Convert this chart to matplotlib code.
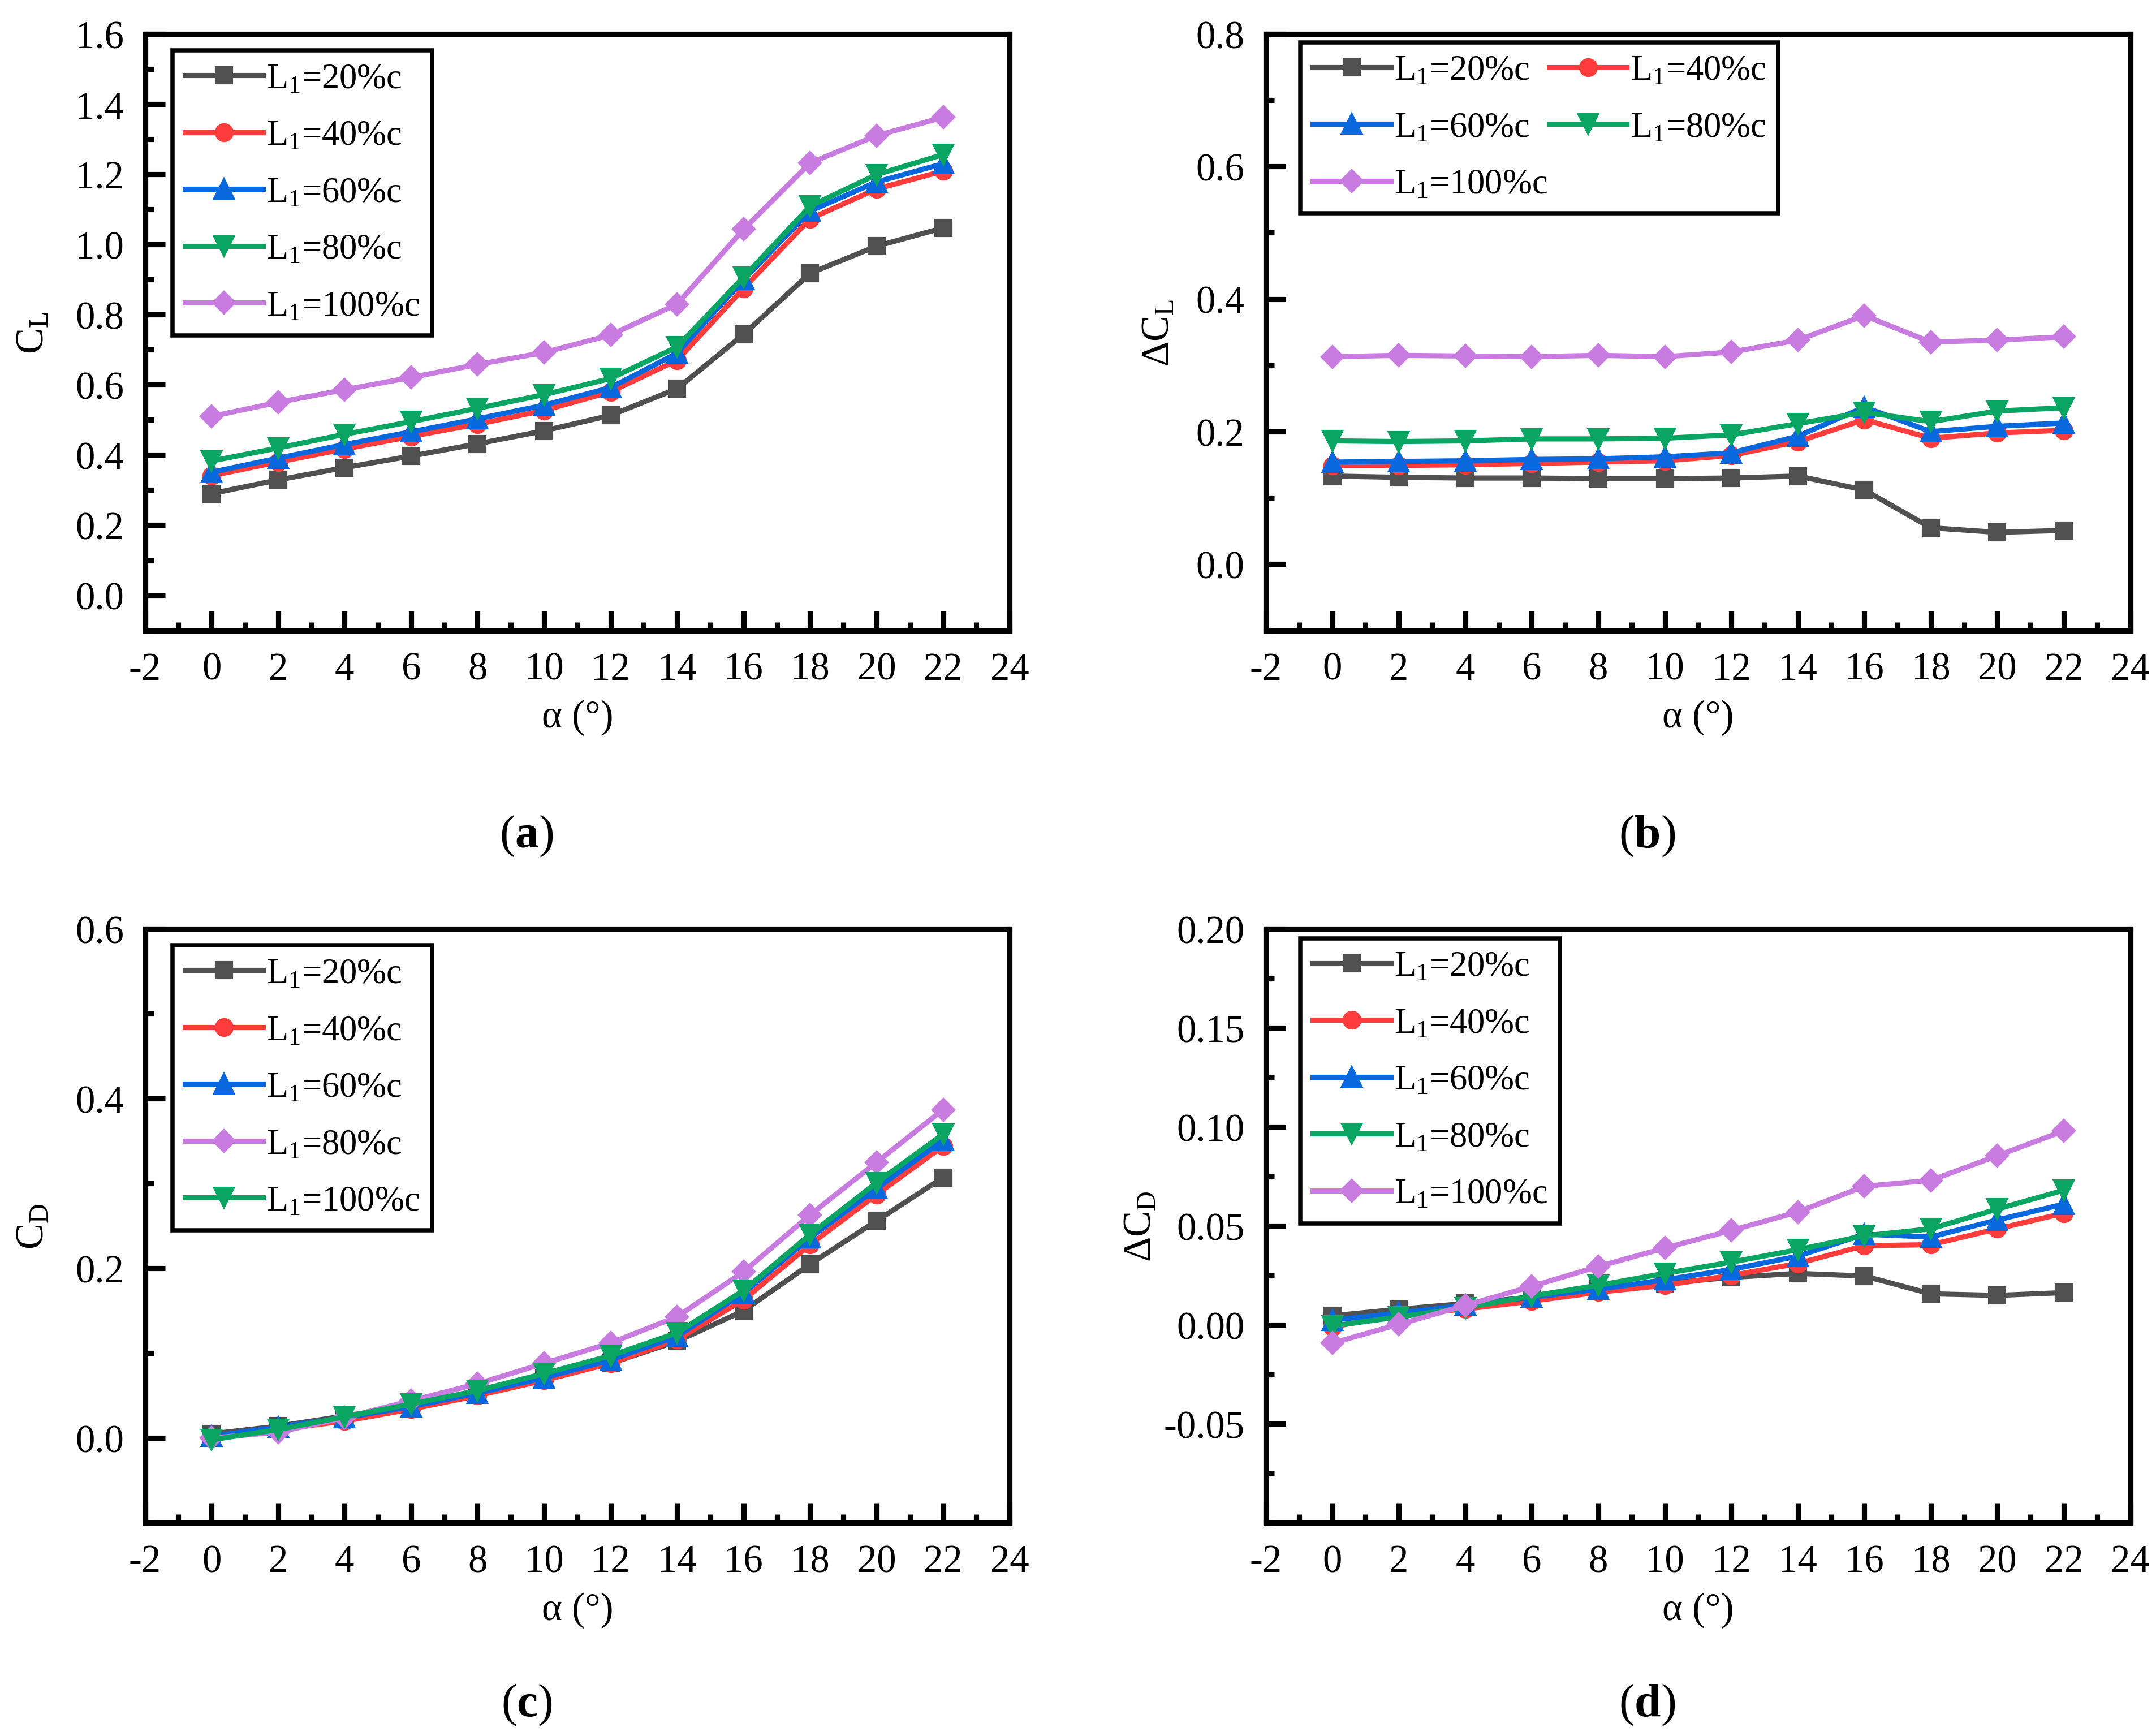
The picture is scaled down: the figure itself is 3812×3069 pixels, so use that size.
import numpy as np
import matplotlib
matplotlib.use("Agg")
import matplotlib.pyplot as plt
from matplotlib.ticker import MultipleLocator, FormatStrFormatter

plt.rcParams['font.family'] = ['Liberation Serif', 'DejaVu Serif']
plt.rcParams['mathtext.fontset'] = 'custom'
plt.rcParams['mathtext.rm'] = 'Liberation Serif'
plt.rcParams['mathtext.it'] = 'Liberation Serif:italic'
plt.rcParams['mathtext.bf'] = 'Liberation Serif:bold'
plt.rcParams['axes.unicode_minus'] = False

# angle of attack
alpha = [0, 2, 4, 6, 8, 10, 12, 14, 16, 18, 20, 22]

# (a) lift coefficient
cl_20 = [0.290, 0.329, 0.364, 0.397, 0.432, 0.469, 0.513, 0.589, 0.744, 0.918, 0.995, 1.047]
cl_40 = [0.341, 0.380, 0.417, 0.453, 0.488, 0.527, 0.580, 0.670, 0.875, 1.073, 1.158, 1.209]
cl_60 = [0.351, 0.391, 0.430, 0.466, 0.503, 0.542, 0.592, 0.690, 0.900, 1.095, 1.178, 1.230]
cl_80 = [0.383, 0.420, 0.459, 0.495, 0.533, 0.572, 0.618, 0.708, 0.907, 1.109, 1.199, 1.256]
cl_100 = [0.510, 0.550, 0.586, 0.621, 0.658, 0.692, 0.742, 0.830, 1.043, 1.232, 1.310, 1.362]

# (b) lift increment
dcl_20 = [0.133, 0.131, 0.130, 0.130, 0.129, 0.129, 0.130, 0.133, 0.112, 0.055, 0.048, 0.051]
dcl_40 = [0.149, 0.149, 0.150, 0.152, 0.154, 0.156, 0.164, 0.185, 0.218, 0.190, 0.198, 0.202]
dcl_60 = [0.154, 0.155, 0.156, 0.158, 0.159, 0.162, 0.168, 0.193, 0.237, 0.200, 0.208, 0.213]
dcl_80 = [0.186, 0.185, 0.186, 0.189, 0.189, 0.190, 0.195, 0.212, 0.229, 0.215, 0.231, 0.236]
dcl_100 = [0.313, 0.315, 0.314, 0.313, 0.315, 0.313, 0.320, 0.338, 0.375, 0.335, 0.338, 0.343]

# (c) drag coefficient
cd_20 = [0.005, 0.014, 0.026, 0.038, 0.053, 0.071, 0.088, 0.114, 0.150, 0.205, 0.256, 0.307]
cd_40 = [0.000, 0.010, 0.020, 0.034, 0.050, 0.068, 0.088, 0.116, 0.163, 0.228, 0.287, 0.344]
cd_60 = [0.002, 0.013, 0.024, 0.037, 0.053, 0.071, 0.092, 0.120, 0.171, 0.236, 0.294, 0.351]
cd_80 = [0.000, 0.007, 0.024, 0.044, 0.064, 0.088, 0.112, 0.143, 0.196, 0.263, 0.325, 0.387]
cd_100 = [-0.002, 0.010, 0.025, 0.040, 0.056, 0.076, 0.097, 0.124, 0.174, 0.240, 0.301, 0.358]

# (d) drag increment
dcd_20 = [0.0046, 0.0079, 0.0108, 0.0140, 0.0180, 0.0210, 0.0240, 0.0260, 0.0247, 0.0157, 0.0149, 0.0163]
dcd_40 = [-0.0010, 0.0050, 0.0080, 0.0120, 0.0165, 0.0200, 0.0250, 0.0310, 0.0400, 0.0405, 0.0485, 0.0564]
dcd_60 = [0.0024, 0.0060, 0.0100, 0.0140, 0.0180, 0.0228, 0.0280, 0.0347, 0.0458, 0.0444, 0.0530, 0.0610]
dcd_80 = [-0.0005, 0.0040, 0.0087, 0.0146, 0.0200, 0.0260, 0.0317, 0.0380, 0.0450, 0.0485, 0.0585, 0.0680]
dcd_100 = [-0.0092, 0.0003, 0.0098, 0.0195, 0.0295, 0.0388, 0.0477, 0.0570, 0.0700, 0.0730, 0.0854, 0.0980]

labels = ['20', '40', '60', '80', '100']
c_gray = '#505050'
c_red = '#FF3C3C'
c_blue = '#0A68DE'
c_green = '#0AA563'
c_purple = '#C87CE0'

styles = [(c_gray, 's', 6.5), (c_red, 'o', 7.0), (c_blue, '^', 8.0),
          (c_green, 'v', 8.0), (c_purple, 'D', 6.5)]
# panel (c) swaps the last two legend entries
styles_c = [(c_gray, 's', 6.5), (c_red, 'o', 7.0), (c_blue, '^', 8.0),
            (c_purple, 'D', 6.5), (c_green, 'v', 8.0)]

FS = 16.5
LFS = 15


def lab(p):
    return r'$\mathregular{L_1}$=' + p + '%c'


def style_axes(ax, ylim, ymajor, fmt):
    ax.set_xlim(-2, 24)
    ax.set_ylim(*ylim)
    ax.xaxis.set_major_locator(MultipleLocator(2))
    ax.xaxis.set_minor_locator(MultipleLocator(1))
    ax.yaxis.set_major_locator(MultipleLocator(ymajor))
    ax.yaxis.set_minor_locator(MultipleLocator(ymajor / 2))
    ax.yaxis.set_major_formatter(FormatStrFormatter(fmt))
    ax.tick_params(which='both', direction='in', top=False, right=False,
                   labelsize=FS, width=2.2)
    ax.tick_params(which='major', length=8.5, pad=9)
    ax.tick_params(which='minor', length=3.5)
    for s in ax.spines.values():
        s.set_linewidth(2.2)
    ax.set_xlabel('α (°)', fontsize=FS, labelpad=5)
    # keep only the tick labels inside the data range on y
    yt = [t for t in ax.get_yticks() if t >= ylim[0] + 1e-9 and t <= ylim[1] + 1e-9]
    ax.set_yticks(yt)


def draw(ax, series, sty):
    lines = []
    for (vals, p), (col, mk, ms) in zip(series, sty):
        ln, = ax.plot(alpha, vals, color=col, marker=mk, markersize=ms, lw=2.2,
                      label=lab(p))
        lines.append(ln)
    return lines


def legend(ax, anchor, handles, ncol=1):
    leg = ax.legend(handles=handles, loc='upper left', bbox_to_anchor=anchor,
                    borderaxespad=0, ncol=ncol, fontsize=LFS, handlelength=2.2,
                    handletextpad=0.1, labelspacing=0.68, columnspacing=0.05,
                    borderpad=0.35, fancybox=False, framealpha=1,
                    edgecolor='black')
    leg.get_frame().set_linewidth(1.8)


fig = plt.figure(figsize=(3812 / 300, 3070 / 300), dpi=300)

ax1 = fig.add_axes([0.0673, 0.6366, 0.401, 0.3436])
ax2 = fig.add_axes([0.5871, 0.6366, 0.401, 0.3436])
ax3 = fig.add_axes([0.0673, 0.1227, 0.401, 0.3421])
ax4 = fig.add_axes([0.5871, 0.1227, 0.401, 0.3421])

h1 = draw(ax1, zip([cl_20, cl_40, cl_60, cl_80, cl_100], labels), styles)
style_axes(ax1, (-0.1, 1.6), 0.2, '%.1f')
ax1.set_ylabel(r'$\mathregular{C_L}$', fontsize=FS, labelpad=10)
legend(ax1, (0.032, 0.972), h1)

h2 = draw(ax2, zip([dcl_20, dcl_40, dcl_60, dcl_80, dcl_100], labels), styles)
style_axes(ax2, (-0.1, 0.8), 0.2, '%.1f')
ax2.set_ylabel(r'Δ$\mathregular{C_L}$', fontsize=FS, labelpad=8)
# two columns filled row by row
legend(ax2, (0.040, 0.986), [h2[0], h2[2], h2[4], h2[1], h2[3]], ncol=2)

h3 = draw(ax3, zip([cd_20, cd_40, cd_60, cd_80, cd_100], labels), styles_c)
style_axes(ax3, (-0.1, 0.6), 0.2, '%.1f')
ax3.set_ylabel(r'$\mathregular{C_D}$', fontsize=FS, labelpad=10)
legend(ax3, (0.032, 0.972), h3)

h4 = draw(ax4, zip([dcd_20, dcd_40, dcd_60, dcd_80, dcd_100], labels), styles)
style_axes(ax4, (-0.1, 0.2), 0.05, '%.2f')
ax4.set_ylabel(r'Δ$\mathregular{C_D}$', fontsize=FS, labelpad=2)
legend(ax4, (0.040, 0.984), h4)

fig.text(0.2443, 0.5186, r'($\mathbf{a}$)', fontsize=20, ha='center', va='center')
fig.text(0.764, 0.5186, r'($\mathbf{b}$)', fontsize=20, ha='center', va='center')
fig.text(0.2443, 0.018, r'($\mathbf{c}$)', fontsize=20, ha='center', va='center')
fig.text(0.764, 0.018, r'($\mathbf{d}$)', fontsize=20, ha='center', va='center')

fig.savefig('out.png', dpi=300, facecolor='white')
